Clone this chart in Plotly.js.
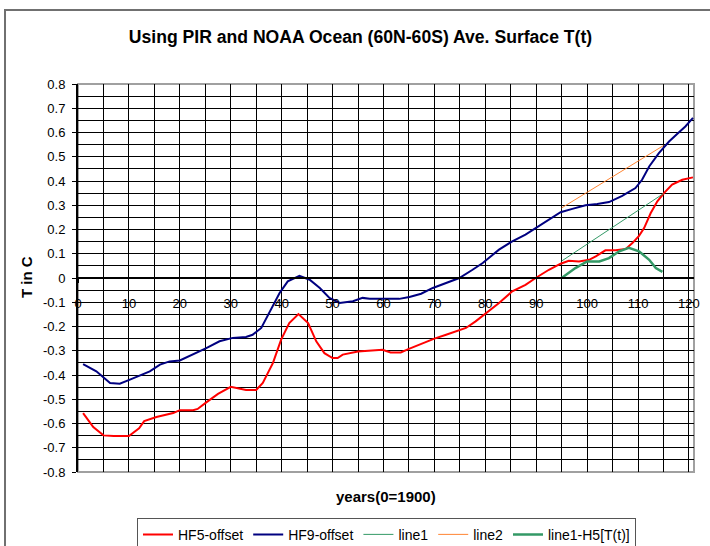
<!DOCTYPE html>
<html>
<head>
<meta charset="utf-8">
<script src="https://cdn.plot.ly/plotly-3.0.1.min.js"></script>
<style>html,body{margin:0;padding:0;background:#fff;}#chart{width:710px;height:546px;}</style>
</head>
<body>
<div id="chart"></div>
<script>
// ---- data ----
const hf5Years = [1,3,5,7,10,12,13,15.4,18.7,20,22.6,23.5,25,27.5,30,31.5,33,35,36.3,38.3,39.9,41.5,43.3,45.2,46.8,48.4,50,51,52,55,59.8,61.4,63.4,65,67.4,70,72.3,76.2,78.1,79.8,82.7,85.3,87.9,89.9,92.5,94.8,96.4,98.4,100.4,101.7,103.6,105.6,107.6,108.9,110.2,111.2,112.5,113.8,115.1,116.7,118.7,120.8];
const hf5Vals = [-0.557,-0.615,-0.649,-0.652,-0.652,-0.62,-0.59,-0.573,-0.557,-0.545,-0.545,-0.54,-0.516,-0.478,-0.449,-0.455,-0.462,-0.462,-0.433,-0.35,-0.254,-0.186,-0.149,-0.186,-0.261,-0.31,-0.33,-0.33,-0.316,-0.303,-0.296,-0.307,-0.307,-0.292,-0.271,-0.25,-0.234,-0.206,-0.179,-0.151,-0.103,-0.055,-0.028,0,0.034,0.059,0.071,0.068,0.075,0.089,0.114,0.114,0.12,0.144,0.174,0.206,0.268,0.316,0.35,0.385,0.405,0.415];

const hf9Years = [1,3.6,6.3,8.2,10.2,12.2,14.1,16.1,18,20,22.5,25.2,27.8,30.4,33,34.3,36,37.6,39.6,41.2,43.5,45.5,47.5,49.4,51.4,54,55.9,57.3,63.1,65.1,67.4,69.7,72.3,74.9,77.5,79.5,82.7,85.3,87.9,89.9,92.5,94.8,97.1,99.7,102,104.3,106.9,109.5,110.8,112.2,114.1,116.1,118,119.3,120.8];
const hf9Vals = [-0.355,-0.385,-0.433,-0.436,-0.419,-0.403,-0.385,-0.357,-0.344,-0.34,-0.316,-0.289,-0.261,-0.247,-0.243,-0.234,-0.206,-0.144,-0.062,-0.014,0.009,-0.007,-0.041,-0.082,-0.103,-0.096,-0.082,-0.086,-0.086,-0.078,-0.065,-0.041,-0.021,0,0.034,0.062,0.117,0.151,0.179,0.206,0.243,0.271,0.285,0.3,0.305,0.313,0.339,0.371,0.405,0.46,0.515,0.563,0.6,0.625,0.66];

const line1Years = [95,115];
const line1Vals = [0.07,0.348];

const line2Years = [95,115];
const line2Vals = [0.289,0.546];

const diffYears = [95,97.7,100,102.4,104.3,106.3,108.2,110.2,112.2,113.5,114.8];
const diffVals = [0,0.041,0.068,0.068,0.082,0.11,0.124,0.11,0.075,0.041,0.025];

const yTickLabels = ['0.8','0.7','0.6','0.5','0.4','0.3','0.2','0.1','0','-0.1','-0.2','-0.3','-0.4','-0.5','-0.6','-0.7','-0.8'];
const yMinorVals = [0.75,0.65,0.55,0.45,0.35,0.25,0.15,0.05,-0.05,-0.15,-0.25,-0.35,-0.45,-0.55,-0.65,-0.75];

const titleText = 'Using PIR and NOAA Ocean (60N-60S) Ave. Surface T(t)';
const xTitle = 'years(0=1900)';
const yTitle = 'T in C';

// ---- chart ----
const FONT = 'Arial, "Liberation Sans", sans-serif';
const traces = [
  {x: hf5Years, y: hf5Vals, name: 'HF5-offset', mode: 'lines', line: {color: '#FF0000', width: 2}},
  {x: hf9Years, y: hf9Vals, name: 'HF9-offset', mode: 'lines', line: {color: '#000080', width: 2}},
  {x: line1Years, y: line1Vals, name: 'line1', mode: 'lines', line: {color: '#339966', width: 1}},
  {x: line2Years, y: line2Vals, name: 'line2', mode: 'lines', line: {color: '#FF8533', width: 1}},
  {x: diffYears, y: diffVals, name: 'line1-H5[T(t)]', mode: 'lines', line: {color: '#339966', width: 2.5}}
];

const layout = {
  width: 710, height: 546,
  margin: {l: 78, r: 16, t: 84, b: 74, pad: 0, autoexpand: false},
  paper_bgcolor: '#ffffff', plot_bgcolor: '#ffffff',
  font: {family: FONT, color: '#000', size: 13},
  showlegend: true,
  title: {text: titleText, font: {family: FONT, size: 17.6, weight: 'bold', color: '#000'},
          xref: 'container', x: 0.5077, xanchor: 'center', yref: 'container', y: 0.932, yanchor: 'middle'},
  xaxis: {
    range: [0, 121], anchor: 'free', position: 0.5,
    tickmode: 'linear', tick0: 0, dtick: 10,
    ticks: 'outside', ticklen: 4, tickwidth: 1, tickcolor: '#000',
    ticklabelstandoff: 9,
    tickfont: {family: FONT, size: 13, color: '#000'},
    showgrid: true, gridcolor: '#000', gridwidth: 1,
    minor: {tickmode: 'linear', tick0: 0, dtick: 5, showgrid: true, gridcolor: '#000', gridwidth: 1, ticks: ''},
    showline: true, linecolor: '#000', linewidth: 2,
    zeroline: false, fixedrange: true, automargin: false
  },
  yaxis: {
    range: [-0.8, 0.8],
    tickmode: 'array', tickvals: yTickLabels.map(Number), ticktext: yTickLabels,
    ticks: 'outside', ticklen: 4, tickwidth: 1, tickcolor: '#000',
    ticklabelstandoff: 4,
    tickfont: {family: FONT, size: 13, color: '#000'},
    showgrid: true, gridcolor: '#000', gridwidth: 1,
    minor: {tickmode: 'array', tickvals: yMinorVals, showgrid: true, gridcolor: '#000', gridwidth: 1, ticks: ''},
    showline: true, linecolor: '#000', linewidth: 2,
    zeroline: false, fixedrange: true, automargin: false
  },
  legend: {
    orientation: 'h', x: 0.5008, xanchor: 'center', y: -0.118, yanchor: 'top',
    bgcolor: '#ffffff', bordercolor: '#555555', borderwidth: 1,
    font: {family: FONT, size: 14, color: '#000'}
  },
  annotations: [
    {text: xTitle, xref: 'paper', yref: 'paper', x: 0.5, y: -0.0644, xanchor: 'center', yanchor: 'middle',
     showarrow: false, font: {family: FONT, size: 15, weight: 'bold', color: '#000'}},
    {text: yTitle, xref: 'paper', yref: 'paper', x: -0.0836, y: 0.501, xanchor: 'center', yanchor: 'middle',
     textangle: -90, showarrow: false, font: {family: FONT, size: 15, weight: 'bold', color: '#000'}}
  ],
  shapes: [
    {type: 'rect', xref: 'paper', yref: 'paper', x0: 0, x1: 1, y0: 0, y1: 1,
     line: {color: '#a0a0a0', width: 2}, layer: 'between'},
    {type: 'rect', xref: 'paper', yref: 'paper', x0: -0.1185, x1: 1.06, y0: -0.4, y1: 1.1907,
     line: {color: '#707070', width: 2}, layer: 'below'}
  ]
};

Plotly.newPlot('chart', traces, layout, {displayModeBar: false, staticPlot: true});
</script>
</body>
</html>
